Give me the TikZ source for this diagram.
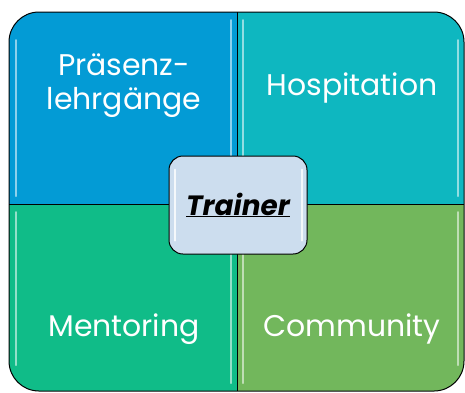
\documentclass[tikz,border=0pt]{standalone}
\usepackage{fontspec}
\setmainfont{Poppins}
\definecolor{praesenz}{RGB}{3,155,213}
\definecolor{hospit}{RGB}{14,183,192}
\definecolor{mentor}{RGB}{16,188,136}
\definecolor{commun}{RGB}{114,183,92}
\definecolor{trainerfill}{RGB}{204,221,238}

\begin{document}
\begin{tikzpicture}[x=1bp,y=-1bp,
    quadtext/.style={text=white,font=\fontsize{30}{34}\selectfont,align=center,inner sep=0pt},
    gloss/.style={white,opacity=0.55,line width=2bp,line cap=round}]
    \useasboundingbox (0,0) rectangle (465,392);
    % the four fields
    \begin{scope}
        \clip[rounded corners=30bp] (9,12) rectangle (464,391);
        \fill[praesenz] (9,12) rectangle (237,204);
        \fill[hospit] (237,12) rectangle (464,204);
        \fill[mentor] (9,204) rectangle (237,391);
        \fill[commun] (237,204) rectangle (464,391);
        \draw[gloss] (16,40) -- (16,196);
        \draw[gloss] (231,20) -- (231,196);
        \draw[gloss] (243,20) -- (243,196);
        \draw[gloss] (458,40) -- (458,196);
        \draw[gloss] (16,212) -- (16,365);
        \draw[gloss] (231,212) -- (231,383);
        \draw[gloss] (243,212) -- (243,383);
        \draw[gloss] (458,212) -- (458,365);
    \end{scope}
    \draw[line width=1bp,rounded corners=30bp] (9,12) rectangle (464,391);
    \draw[line width=0.8bp] (237,12) -- (237,391);
    \draw[line width=0.8bp] (9,204) -- (464,204);
    % labels
    \node[quadtext] (praesenz) at (124,86) {Präsenz-\\lehrgänge};
    \node[quadtext,anchor=base] (hospit) at (352,95) {Hospitation};
    \node[quadtext,anchor=base] (mentor) at (124,336) {Mentoring};
    \node[quadtext,anchor=base] (commun) at (352,336) {Community};
    % centre
    \node[draw=black,line width=1bp,fill=trainerfill,rounded corners=14bp,
          minimum width=138bp,minimum height=98bp] (trainer) at (238,205) {};
    \draw[gloss,opacity=0.8] ([xshift=6bp,yshift=-14bp]trainer.north west) -- ([xshift=6bp,yshift=14bp]trainer.south west);
    \draw[gloss,opacity=0.8] ([xshift=-6bp,yshift=-14bp]trainer.north east) -- ([xshift=-6bp,yshift=14bp]trainer.south east);
    \node[font=\fontsize{28}{32}\selectfont\bfseries\itshape] (trainertext) at (trainer) {\underline{Trainer}};
\end{tikzpicture}
\end{document}
